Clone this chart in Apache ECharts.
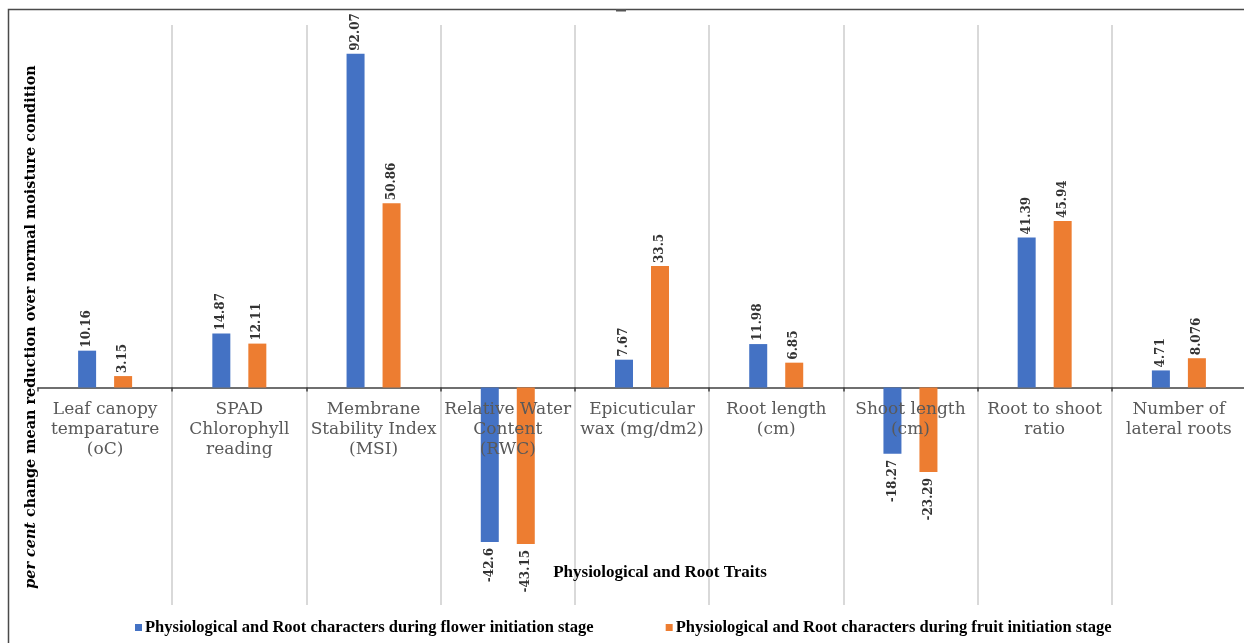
<!DOCTYPE html>
<html>
<head>
<meta charset="utf-8">
<script src="https://cdn.jsdelivr.net/npm/echarts@6/dist/echarts.min.js"></script>
<style>html,body{margin:0;padding:0;background:#fff}#c{width:1244px;height:643px}</style>
</head>
<body>
<div id="c"></div>
<script>
const categories = [
  "Leaf canopy\ntemparature\n(oC)",
  "SPAD\nChlorophyll\nreading",
  "Membrane\nStability Index\n(MSI)",
  "Relative Water\nContent\n(RWC)",
  "Epicuticular\nwax (mg/dm2)",
  "Root length\n(cm)",
  "Shoot length\n(cm)",
  "Root to shoot\nratio",
  "Number of\nlateral roots"
];
const seriesNames = [
  "Physiological and Root characters during flower initiation stage",
  "Physiological and Root characters during fruit initiation stage"
];
const flowerValues = [10.16, 14.87, 92.07, -42.6, 7.67, 11.98, -18.27, 41.39, 4.71];
const fruitValues = [3.15, 12.11, 50.86, -43.15, 33.5, 6.85, -23.29, 45.94, 8.076];
const labelTexts = {
  flower: ["10.16", "14.87", "92.07", "-42.6", "7.67", "11.98", "-18.27", "41.39", "4.71"],
  fruit: ["3.15", "12.11", "50.86", "-43.15", "33.5", "6.85", "-23.29", "45.94", "8.076"]
};
const yAxisTitleItalic = "per cent";
const yAxisTitleRest = " change mean reduction over normal moisture condition";
const xAxisTitle = "Physiological and Root Traits";
const yMin = -60, yMax = 100;

const GRID = { left: 38, right: -2, top: 25, bottom: 38 };
const H = 643;
const plotH = H - GRID.top - GRID.bottom;
const zeroY = GRID.top + plotH * yMax / (yMax - yMin);
const labelOffset = -((H - GRID.bottom) - zeroY);

function buildData(vals, texts) {
  return vals.map((v, i) => ({
    value: v,
    label: v < 0
      ? { position: 'bottom', align: 'right', formatter: texts[i], distance: 6 }
      : { position: 'top', align: 'left', formatter: texts[i], distance: 3 }
  }));
}

const labelBase = {
  show: true,
  rotate: 90,
  verticalAlign: 'middle',
  fontFamily: 'DejaVu Serif',
  fontWeight: 'bold',
  fontSize: 12,
  color: '#333'
};

const chart = echarts.init(document.getElementById('c'));
chart.setOption({
  animation: false,
  backgroundColor: '#fff',
  grid: Object.assign({ containLabel: false, outerBoundsMode: 'none' }, GRID),
  legend: {
    left: 130, top: 614,
    itemWidth: 7, itemHeight: 7, itemGap: 72,
    icon: 'rect',
    textStyle: { fontFamily: 'Liberation Serif', fontWeight: 'bold', fontSize: 16.5, color: '#000', padding: [0,0,0,-2] },
    data: seriesNames
  },
  xAxis: [
    {
      type: 'category',
      data: categories,
      position: 'bottom',
      axisLine: { onZero: true, lineStyle: { color: '#404040', width: 1.5 } },
      axisTick: { show: true, length: 4, lineStyle: { color: '#404040', width: 1.5 } },
      axisLabel: { show: false },
      splitLine: { show: true, interval: (i) => i !== 0, lineStyle: { color: '#d9d9d9', width: 2 } }
    },
    {
      type: 'category',
      data: categories,
      position: 'bottom',
      offset: labelOffset,
      z: 5,
      axisLine: { show: false, onZero: false },
      axisTick: { show: false },
      splitLine: { show: false },
      axisLabel: {
        interval: 0, margin: 12, lineHeight: 20,
        fontFamily: 'DejaVu Serif', fontSize: 17, color: '#595959'
      }
    }
  ],
  yAxis: {
    type: 'value', min: yMin, max: yMax, interval: 20,
    axisLine: { show: false }, axisTick: { show: false },
    axisLabel: { show: false }, splitLine: { show: false }
  },
  series: [
    {
      name: seriesNames[0], type: 'bar', barWidth: 18, barGap: '100%',
      itemStyle: { color: '#4472C4' },
      label: labelBase,
      data: buildData(flowerValues, labelTexts.flower)
    },
    {
      name: seriesNames[1], type: 'bar', barWidth: 18, barGap: '100%',
      itemStyle: { color: '#ED7D31' },
      label: labelBase,
      data: buildData(fruitValues, labelTexts.fruit)
    }
  ],
  graphic: [
    { type: 'rect', z: 100, silent: true, shape: { x: 8.5, y: 9.5, width: 1400, height: 800 },
      style: { fill: 'none', stroke: '#4a4a4a', lineWidth: 1.5 } },
    { type: 'rect', z: 100, silent: true, shape: { x: 616, y: 9, width: 10, height: 2.5 },
      style: { fill: '#555' } },
    { type: 'text', z: 100, x: 31, y: 327, rotation: Math.PI / 2,
      style: {
        text: '{i|' + yAxisTitleItalic + '}{b|' + yAxisTitleRest + '}',
        align: 'center', verticalAlign: 'middle',
        rich: {
          i: { fontFamily: 'DejaVu Serif', fontStyle: 'italic', fontWeight: 'bold', fontSize: 14.4, fill: '#000' },
          b: { fontFamily: 'DejaVu Serif', fontWeight: 'bold', fontSize: 14.4, fill: '#000' }
        }
      } },
    { type: 'text', z: 100, x: 660, y: 573,
      style: { text: xAxisTitle, align: 'center', verticalAlign: 'middle',
        fontFamily: 'Liberation Serif', fontWeight: 'bold', fontSize: 17, fill: '#000' } }
  ]
});
</script>
</body>
</html>
